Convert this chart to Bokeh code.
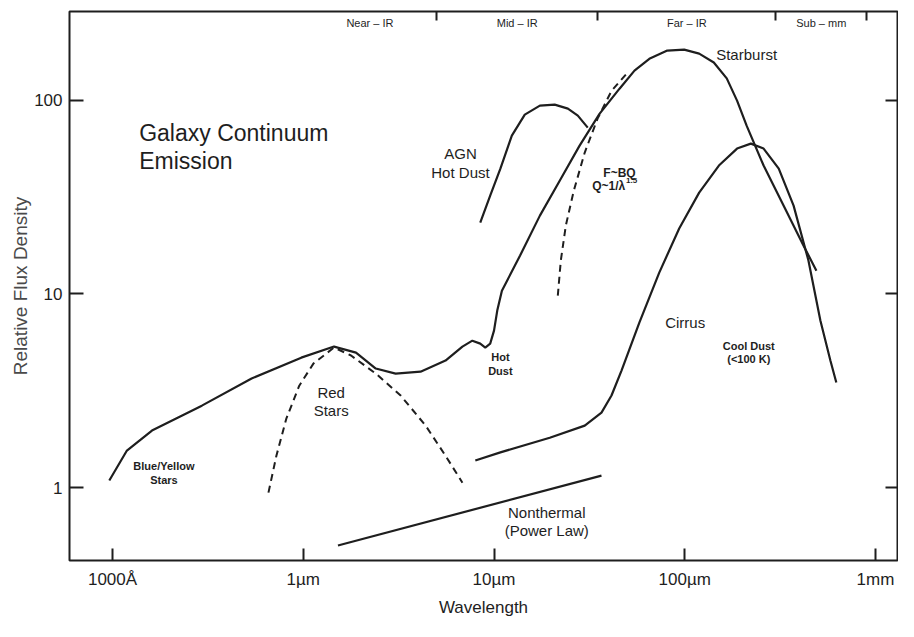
from bokeh.plotting import figure
from bokeh.models import Range1d, FixedTicker, LogAxis, CustomJSTickFormatter, ColumnDataSource
from bokeh.core.properties import value
from bokeh.embed import file_html
from bokeh.resources import INLINE

# ---------------- data (wavelength in micron, relative flux density) ----------------
x_ticks = [0.1, 1, 10, 100, 1000]
x_tick_labels = ["1000Å", "1µm", "10µm", "100µm", "1mm"]
y_ticks = [1, 10, 100]
y_tick_labels = ["1", "10", "100"]

band_edges = [1, 5, 35, 300, 900]
band_names = ["Near – IR", "Mid – IR", "Far – IR", "Sub – mm"]

# total envelope: stars -> hot dust -> starburst
main_wl = [0.0962, 0.119, 0.161, 0.294, 0.536, 0.976, 1.45, 1.89, 2.40, 3.05, 4.12, 5.57,
           6.83, 7.70, 8.47, 9.0, 9.55, 10.0, 10.4, 11.0, 13.7, 17.4, 22.1, 28.1, 35.8,
           45.5, 54.5, 65.2, 81, 99.3, 119, 142, 166, 188, 211, 259, 330, 419, 490]
main_flux = [1.087, 1.553, 1.97, 2.65, 3.66, 4.69, 5.35, 4.98, 4.12, 3.88, 3.97, 4.53,
             5.35, 5.74, 5.54, 5.29, 5.54, 6.47, 8.21, 10.4, 15.8, 25.4, 38.5, 58.4, 85.5,
             115, 142.6, 164, 181, 183, 174.6, 157, 130, 99.8, 74.1, 46.1, 28.6, 17.8, 13.2]

cirrus_wl = [7.98, 10.8, 19.6, 29.9, 36.6, 41.3, 46.6, 57.8, 73.5, 93.5, 119, 151, 188,
             222, 259, 311, 372, 445, 514, 580, 623]
cirrus_flux = [1.38, 1.52, 1.81, 2.09, 2.44, 2.99, 4.02, 7.12, 12.9, 21.8, 33.4, 46.1, 56.4,
               59.8, 56.4, 44.4, 28.6, 14.9, 7.29, 4.53, 3.49]

agn_wl = [8.47, 9.55, 10.8, 12.4, 14.5, 17.4, 20.8, 24.4, 27.5, 31.0]
agn_flux = [23.4, 32.2, 44.4, 65.8, 84.5, 94.0, 95.1, 90.7, 83.5, 72.4]

bq_wl = [21.6, 22.4, 23.8, 26.2, 29.9, 34.9, 41.3, 50.1]
bq_flux = [9.8, 14.9, 22.6, 34.2, 53.8, 80.5, 112, 139]

red_wl = [0.657, 0.723, 0.815, 0.953, 1.13, 1.45, 1.78, 2.40, 3.24, 4.38, 5.57, 6.83]
red_flux = [0.942, 1.46, 2.27, 3.36, 4.37, 5.29, 4.81, 3.88, 2.99, 2.09, 1.46, 1.06]

nonthermal_wl = [1.52, 36.6]
nonthermal_flux = [0.502, 1.153]

FONT = value("Liberation Sans")
INK = "#1e1e1e"

p = figure(width=898, height=621, x_axis_type="log", y_axis_type="log",
           x_range=Range1d(0.0595, 1304), y_range=Range1d(0.42, 288),
           min_border_left=69, min_border_right=1, min_border_top=11, min_border_bottom=61,
           toolbar_location=None, output_backend="svg")
p.background_fill_color = "white"
p.border_fill_color = "white"
p.outline_line_color = INK
p.outline_line_width = 2
p.grid.visible = False

fmt_js = """
let best = 0, bd = Infinity;
for (let i = 0; i < vals.length; i++) {
  const d = Math.abs(Math.log10(tick) - Math.log10(vals[i]));
  if (d < bd) { bd = d; best = i; }
}
return txt[best];
"""

xa = p.xaxis[0]
xa.ticker = FixedTicker(ticks=x_ticks)
xa.formatter = CustomJSTickFormatter(args=dict(vals=x_ticks, txt=x_tick_labels), code=fmt_js)
xa.axis_label = "Wavelength"
ya = p.yaxis[0]
ya.ticker = FixedTicker(ticks=y_ticks)
ya.formatter = CustomJSTickFormatter(args=dict(vals=y_ticks, txt=y_tick_labels), code=fmt_js)
ya.axis_label = "Relative Flux Density"

for ax, tin in ((xa, 12), (ya, 14)):
    ax.axis_line_color = None
    ax.major_tick_in = tin
    ax.major_tick_out = 0
    ax.major_tick_line_color = INK
    ax.major_tick_line_width = 2
    ax.minor_tick_line_color = None
    ax.major_label_text_font = "Liberation Sans"
    ax.major_label_text_font_size = "17px"
    ax.major_label_text_color = INK
    ax.axis_label_text_font = "Liberation Sans"
    ax.axis_label_text_font_style = "normal"
    ax.axis_label_text_font_size = "17px"
xa.major_label_standoff = 9
xa.axis_label_standoff = 6
xa.axis_label_text_color = INK
ya.major_label_standoff = 7
ya.axis_label_standoff = 0
ya.axis_label_text_color = "#4a4a4a"
ya.axis_label_text_font_size = "19px"

empty = CustomJSTickFormatter(code="return ''")
top_ax = LogAxis(ticker=FixedTicker(ticks=band_edges[1:]), formatter=empty,
                 axis_line_color=None, major_tick_in=9, major_tick_out=0,
                 major_tick_line_color=INK, major_tick_line_width=2,
                 minor_tick_line_color=None, major_label_standoff=0,
                 major_label_text_font_size="0px")
p.add_layout(top_ax, "above")
right_ax = LogAxis(ticker=FixedTicker(ticks=y_ticks), formatter=empty,
                   axis_line_color=None, major_tick_in=12, major_tick_out=0,
                   major_tick_line_color=INK, major_tick_line_width=2,
                   minor_tick_line_color=None, major_label_standoff=0,
                   major_label_text_font_size="0px")
p.add_layout(right_ax, "right")

# curves
p.line(main_wl, main_flux, line_color=INK, line_width=2.2)
p.line(cirrus_wl, cirrus_flux, line_color=INK, line_width=2.2)
p.line(agn_wl, agn_flux, line_color=INK, line_width=2.2)
p.line(nonthermal_wl, nonthermal_flux, line_color=INK, line_width=2.2)
p.line(bq_wl, bq_flux, line_color=INK, line_width=2, line_dash="7 5")
p.line(red_wl, red_flux, line_color=INK, line_width=2, line_dash="7 5")

# band labels along the top
band_x = [(band_edges[i] * band_edges[i + 1]) ** 0.5 for i in range(len(band_names))]
band_y = 10 ** (2.402)


def add_text(xs, ys, texts, size, style="normal", align="center"):
    src = ColumnDataSource(dict(x=xs, y=ys, t=texts))
    p.text(x="x", y="y", text="t", source=src, text_font=FONT,
           text_font_size=value(size), text_font_style=style, text_color=INK,
           text_align=align, text_baseline="middle")


add_text(band_x, [band_y] * len(band_x), band_names, "11px")
add_text([0.138, 0.138], [68.2, 48.9], ["Galaxy Continuum", "Emission"], "23px", align="left")
add_text([6.67, 6.67], [53.1, 42.4], ["AGN", "Hot Dust"], "15px")
add_text([45.5], [42.4], ["F~BQ"], "12px", "bold")
add_text([39.9], [36.3], ["Q~1/λ"], "12px", "bold")
add_text([49.2], [38.4], ["1.5"], "8px", "bold", align="left")
add_text([211], [172.5], ["Starburst"], "15px")
add_text([100.5], [7.12], ["Cirrus"], "15px")
add_text([216.6, 216.6], [5.41, 4.64], ["Cool Dust", "(<100 K)"], "11px", "bold")
add_text([10.8, 10.8], [4.75, 4.02], ["Hot", "Dust"], "11px", "bold")
add_text([1.40, 1.40], [3.09, 2.50], ["Red", "Stars"], "15px")
add_text([0.186, 0.186], [1.30, 1.10], ["Blue/Yellow", "Stars"], "11px", "bold")
add_text([18.9, 18.9], [0.743, 0.600], ["Nonthermal", "(Power Law)"], "15px")

open("out.html", "w").write(file_html(p, INLINE))
